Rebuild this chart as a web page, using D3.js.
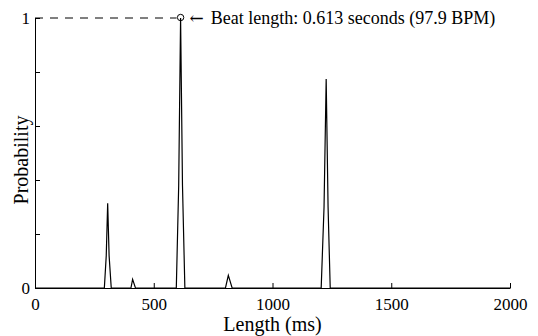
<!DOCTYPE html>
<html>
<head>
<meta charset="utf-8">
<script src="https://cdn.jsdelivr.net/npm/d3@7"></script>
<style>
  body { margin: 0; background: #fff; }
  text { font-family: "Liberation Serif", "Times New Roman", serif; }
</style>
</head>
<body>
<div id="chart"></div>
<script>
// Beat length probability distribution

const lengthsMs = [0, 292, 300, 306, 312, 321, 404, 411, 423, 595, 605, 613, 621, 631,
                   802, 814, 830, 1205, 1217, 1226, 1234, 1243, 2000];
const probs     = [0, 0, 0.12, 0.314, 0.12, 0, 0, 0.032, 0, 0, 0.38, 1.0, 0.38, 0,
                   0, 0.047, 0, 0, 0.3, 0.774, 0.3, 0, 0];
const xTicks = [0, 500, 1000, 1500, 2000];
const yTicks = [0, 0.2, 0.4, 0.6, 0.8, 1];
const yTickLabels = { 0: "0", 1: "1" };
const beatMs = 613;
const beatText = "Beat length: 0.613 seconds (97.9 BPM)";

const width = 538, height = 336;
const margin = { top: 18, right: 28, bottom: 48, left: 35 };
const innerW = width - margin.left - margin.right;
const innerH = height - margin.top - margin.bottom;

const svg = d3.select("#chart").append("svg")
  .attr("width", width)
  .attr("height", height);

const g = svg.append("g").attr("transform", `translate(${margin.left},${margin.top})`);

const x = d3.scaleLinear().domain([0, 2000]).range([0, innerW]);
const y = d3.scaleLinear().domain([0, 1]).range([innerH, 0]);

// X axis, ticks pointing inward
const xAxis = g.append("g")
  .attr("transform", `translate(0,${innerH})`)
  .call(d3.axisBottom(x).tickValues(xTicks).tickSize(-5).tickPadding(10).tickSizeOuter(0)
    .tickFormat(d3.format("d")));
xAxis.selectAll("text").style("font-size", "17px").attr("fill", "#000");

// Y axis
const yAxis = g.append("g")
  .call(d3.axisLeft(y).tickValues(yTicks).tickSize(-5).tickPadding(5).tickSizeOuter(0)
    .tickFormat(d => yTickLabels[d] || ""));
yAxis.selectAll("text").style("font-size", "17px").attr("fill", "#000");
g.selectAll(".domain").attr("stroke", "#000");

// curve
const data = lengthsMs.map((v, i) => ({ ms: v, p: probs[i] }));
g.append("path")
  .datum(data)
  .attr("fill", "none")
  .attr("stroke", "#000")
  .attr("stroke-width", 1.2)
  .attr("d", d3.line().x(d => x(d.ms)).y(d => y(d.p)));

// beat marker
g.append("line")
  .attr("x1", 0).attr("x2", x(beatMs) - 4)
  .attr("y1", y(1)).attr("y2", y(1))
  .attr("stroke", "#000")
  .attr("stroke-dasharray", "8,7");

g.append("circle")
  .attr("cx", x(beatMs)).attr("cy", y(1) - 0.5)
  .attr("r", 3.2)
  .attr("fill", "none")
  .attr("stroke", "#000");

const label = g.append("text")
  .attr("x", x(beatMs) + 9)
  .attr("y", y(1) + 6)
  .style("font-size", "18px");
label.append("tspan").style("font-family", "DejaVu Serif").style("font-size", "17px").text("\u2190");
label.append("tspan").attr("dx", 7).text(beatText);

// axis labels
svg.append("text")
  .attr("x", margin.left + innerW / 2)
  .attr("y", 331)
  .attr("text-anchor", "middle")
  .style("font-size", "20px")
  .text("Length (ms)");

svg.append("text")
  .attr("transform", `translate(28,160) rotate(-90)`)
  .attr("text-anchor", "middle")
  .style("font-size", "20px")
  .text("Probability");
</script>
</body>
</html>
